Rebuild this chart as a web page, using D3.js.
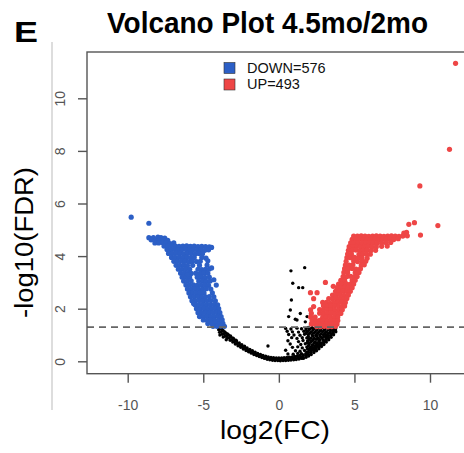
<!DOCTYPE html>
<html>
<head>
<meta charset="utf-8">
<script src="https://cdn.jsdelivr.net/npm/d3@7"></script>
<style>
  html, body { margin: 0; padding: 0; background: #fff; }
  svg { display: block; }
</style>
</head>
<body>
<svg id="chart" width="464" height="453"></svg>
<script>
// ---- data (log2FC, -log10 FDR) ----
const xTicks = [-10, -5, 0, 5, 10];
const yTicks = [0, 2, 4, 6, 8, 10];
const fdrCut = 1.301;

const legendLabels = ['DOWN=576', 'UP=493'];
const legendColors = ['#2C5FC6', '#EE4646'];

const downPoints = [
  [-9.77,5.48],[-8.6,5.25],
  [-8.6,4.7],[-8.3,4.7],[-8.0,4.72],[-7.8,4.7],[-7.55,4.68],
  [-8.45,4.62],[-8.15,4.6],[-7.9,4.63],[-7.65,4.6],[-7.35,4.6],
  [-8.2,4.5],[-7.95,4.5],[-7.7,4.52],[-7.45,4.5],[-7.2,4.48],[-6.95,4.5],
  [-7.6,4.38],[-7.35,4.38],[-7.1,4.4],[-6.85,4.38],[-6.6,4.37],[-6.35,4.38],[-6.1,4.39],[-5.85,4.37],[-5.6,4.38],[-5.35,4.36],[-5.1,4.37],[-4.85,4.36],[-4.6,4.35],[-4.45,4.33],
  [-7.4,4.25],[-7.15,4.25],[-6.9,4.26],[-6.65,4.24],[-6.4,4.25],[-6.15,4.25],[-5.9,4.24],[-5.65,4.25],[-5.4,4.23],[-5.15,4.24],[-4.9,4.22],[-4.65,4.24],
  [-7.3,4.1],[-7.05,4.1],[-6.8,4.12],[-6.55,4.1],[-6.3,4.08],[-6.05,4.1],[-5.8,4.1],[-5.55,4.08],[-5.3,4.1],[-5.05,4.09],
  [-7.1,3.95],[-6.85,3.95],[-6.6,3.96],[-6.35,3.94],[-6.1,3.95],[-5.85,3.93],[-5.6,3.95],[-5.1,3.95],[-4.82,3.92],
  [-6.95,3.8],[-6.7,3.8],[-6.45,3.82],[-6.2,3.8],[-5.95,3.78],[-5.75,3.8],[-5.45,3.79],[-5.2,3.8],[-4.7,3.82],
  [-6.8,3.65],[-6.55,3.65],[-6.3,3.66],[-6.05,3.64],[-5.7,3.65],[-5.25,3.65],[-4.75,3.66],
  [-6.65,3.5],[-6.4,3.5],[-6.15,3.52],[-5.9,3.5],[-5.35,3.5],[-5.1,3.49],[-4.85,3.5],[-4.6,3.51],
  [-6.5,3.35],[-6.25,3.35],[-6.0,3.36],[-5.8,3.34],[-5.5,3.35],[-5.2,3.34],[-4.95,3.36],[-4.7,3.35],
  [-6.4,3.2],[-6.15,3.2],[-5.9,3.21],[-5.4,3.2],[-5.15,3.21],[-4.9,3.19],[-4.6,3.2],
  [-6.3,3.05],[-6.05,3.05],[-5.8,3.06],[-5.3,3.05],[-5.05,3.06],[-4.8,3.04],[-4.55,3.05],
  [-6.15,2.9],[-5.9,2.9],[-5.65,2.91],[-5.4,2.89],[-5.15,2.9],[-4.9,2.91],[-4.65,2.89],[-4.14,2.9],
  [-6.05,2.75],[-5.8,2.75],[-5.55,2.76],[-5.3,2.74],[-5.05,2.75],[-4.8,2.76],[-4.5,2.75],
  [-5.95,2.6],[-5.7,2.6],[-5.45,2.61],[-5.2,2.59],[-4.95,2.6],[-4.4,2.6],
  [-5.85,2.45],[-5.6,2.45],[-5.35,2.46],[-5.1,2.44],[-4.85,2.45],[-4.6,2.46],[-4.3,2.45],
  [-5.75,2.3],[-5.5,2.3],[-5.25,2.31],[-5.0,2.29],[-4.75,2.3],[-4.5,2.31],[-4.2,2.3],
  [-5.64,2.2],[-6.05,3.3],[-4.3,3.1],[-4.45,3.55],
  [-5.55,2.15],[-5.3,2.15],[-5.05,2.16],[-4.8,2.14],[-4.55,2.15],[-4.3,2.16],[-4.05,2.15],
  [-5.45,2.0],[-5.2,2.0],[-4.95,2.01],[-4.7,1.99],[-4.45,2.0],[-4.2,2.01],[-3.98,2.0],
  [-5.35,1.85],[-5.1,1.85],[-4.85,1.86],[-4.6,1.84],[-4.35,1.85],[-4.1,1.86],[-3.9,1.85],
  [-5.25,1.7],[-5.0,1.7],[-4.75,1.71],[-4.5,1.69],[-4.25,1.7],[-4.0,1.71],[-3.82,1.7],
  [-5.0,1.57],[-4.75,1.57],[-4.5,1.58],[-4.25,1.56],[-4.0,1.57],[-3.75,1.58],
  [-4.7,1.44],[-4.45,1.44],[-4.2,1.45],[-3.95,1.43],[-3.7,1.44],
  [-4.35,1.33],[-4.1,1.33],[-3.85,1.34],[-3.6,1.33]
];

const upPoints = [
  [11.69,11.33],[11.29,8.06],[9.33,6.67],[8.6,5.21],[8.97,5.27],[10.52,5.16],[9.37,4.8],[8.27,4.87],[8.45,4.9],
  [4.95,4.76],[5.2,4.76],[5.45,4.77],[5.7,4.76],[5.95,4.75],[6.2,4.76],[6.45,4.77],[6.7,4.76],[6.95,4.75],[7.2,4.76],[7.45,4.77],[7.7,4.76],[7.95,4.75],[8.2,4.76],[8.5,4.77],
  [4.85,4.64],[5.1,4.64],[5.35,4.65],[5.6,4.63],[5.85,4.64],[6.1,4.65],[6.35,4.64],[6.6,4.63],[6.85,4.64],[7.1,4.65],[7.35,4.64],[7.6,4.63],[7.9,4.66],
  [4.75,4.5],[5.0,4.5],[5.25,4.51],[5.5,4.49],[5.75,4.5],[6.0,4.51],[6.25,4.5],[6.5,4.49],[6.8,4.5],[7.1,4.51],[7.4,4.52],
  [4.65,4.36],[4.9,4.36],[5.15,4.37],[5.4,4.35],[5.65,4.36],[5.9,4.37],[6.15,4.35],[6.45,4.36],[6.8,4.37],[7.17,4.38],
  [4.6,4.22],[4.85,4.22],[5.1,4.23],[5.35,4.21],[5.6,4.22],[5.85,4.23],[6.1,4.21],[6.4,4.22],
  [4.55,4.08],[4.8,4.08],[5.3,4.07],[5.55,4.08],[5.8,4.09],[6.05,4.07],
  [4.5,3.94],[4.75,3.94],[5.0,3.95],[5.25,3.93],[5.5,3.94],[5.84,3.92],
  [4.45,3.8],[4.95,3.81],[5.2,3.79],[5.5,3.8],[5.75,3.8],
  [4.4,3.66],[4.65,3.66],[4.9,3.67],[5.45,3.66],[5.65,3.67],
  [4.35,3.52],[4.6,3.52],[4.85,3.53],[5.1,3.51],[5.4,3.52],
  [4.3,3.38],[4.55,3.38],[5.05,3.37],[5.3,3.38],
  [4.25,3.22],[4.5,3.22],[4.75,3.23],[5.0,3.21],[5.18,3.22],
  [4.1,3.08],[4.35,3.08],[4.85,3.07],[5.05,3.08],[3.08,3.0],
  [3.95,2.94],[4.2,2.94],[4.45,2.95],[4.7,2.93],[4.95,2.94],
  [3.85,2.8],[4.1,2.8],[4.35,2.81],[4.6,2.79],[4.85,2.8],
  [3.75,2.66],[4.0,2.66],[4.25,2.67],[4.5,2.65],[4.73,2.66],
  [2.09,2.61],[2.53,2.61],[2.3,2.38],[3.6,2.85],
  [3.55,2.52],[3.8,2.52],[4.05,2.53],[4.3,2.51],[4.6,2.52],
  [3.3,2.38],[3.55,2.38],[3.8,2.39],[4.05,2.37],[4.3,2.38],[4.5,2.39],
  [2.9,2.24],[3.15,2.24],[3.41,2.2],[3.65,2.23],[3.9,2.24],[4.15,2.25],[4.4,2.24],
  [2.3,2.08],[2.95,2.11],[3.2,2.09],[3.45,2.1],[3.7,2.11],[3.95,2.09],[4.2,2.1],[4.35,2.1],
  [2.1,1.96],[2.7,1.97],[2.95,1.95],[3.2,1.96],[3.45,1.97],[3.7,1.95],[3.95,1.96],[4.2,1.96],
  [2.15,1.82],[2.7,1.83],[2.95,1.81],[3.2,1.82],[3.45,1.83],[3.7,1.81],[3.95,1.82],[4.1,1.82],
  [2.1,1.68],[2.4,1.68],[2.9,1.67],[3.15,1.68],[3.4,1.69],[3.65,1.67],[3.9,1.68],
  [2.2,1.55],[2.45,1.55],[2.7,1.56],[2.95,1.54],[3.2,1.55],[3.45,1.56],[3.7,1.54],[3.9,1.55],
  [2.15,1.42],[2.4,1.42],[2.65,1.43],[2.9,1.41],[3.15,1.42],[3.4,1.43],[3.65,1.41],[3.85,1.42],
  [2.5,1.32],[2.75,1.32],[3.0,1.33],[3.25,1.31],[3.5,1.32],[3.75,1.33]
];

const nsPoints = [
  // left arm and floor of the U
  [-4.05,1.32],[-3.98,1.2],[-3.92,1.1],[-3.85,1.24],[-3.8,1.13],[-3.74,1.03],
  [-3.68,1.16],[-3.62,1.05],[-3.56,0.95],[-3.5,1.07],[-3.45,0.97],[-3.4,0.88],
  [-3.33,1.0],[-3.28,0.9],[-3.22,0.8],[-3.16,0.92],[-3.1,0.82],[-3.05,0.73],
  [-2.98,0.84],[-2.93,0.75],[-2.88,0.66],[-2.8,0.77],[-2.75,0.68],[-2.7,0.59],
  [-2.62,0.7],[-2.57,0.61],[-2.52,0.53],[-2.45,0.63],[-2.4,0.55],[-2.35,0.47],
  [-2.27,0.57],[-2.22,0.49],[-2.17,0.41],[-2.1,0.51],[-2.05,0.43],[-2.0,0.36],
  [-1.92,0.45],[-1.87,0.38],[-1.82,0.31],[-1.75,0.4],[-1.7,0.33],[-1.65,0.26],
  [-1.57,0.35],[-1.52,0.28],[-1.47,0.22],[-1.4,0.3],[-1.35,0.24],[-1.3,0.18],
  [-1.22,0.26],[-1.17,0.2],[-1.12,0.14],[-1.05,0.22],[-1.0,0.16],[-0.95,0.11],
  [-0.87,0.19],[-0.82,0.13],[-0.77,0.08],[-0.7,0.17],[-0.65,0.11],[-0.6,0.06],
  [-0.52,0.15],[-0.47,0.09],[-0.42,0.04],[-0.35,0.14],[-0.3,0.08],[-0.25,0.03],
  [-0.17,0.13],[-0.12,0.08],[-0.07,0.03],[0.0,0.13],[0.05,0.07],[0.1,0.02],
  [0.18,0.13],[0.23,0.08],[0.28,0.03],[0.35,0.14],[0.4,0.08],[0.45,0.03],
  [0.53,0.15],[0.58,0.09],[0.63,0.04],[0.7,0.16],[0.75,0.1],[0.8,0.05],
  [0.88,0.17],[0.93,0.11],[0.98,0.06],[1.05,0.18],[1.1,0.12],[1.15,0.07],
  [1.23,0.2],[1.28,0.14],[1.33,0.09],[1.4,0.22],[1.45,0.16],[1.5,0.11],
  [-3.95,1.28],[-3.75,1.2],[-3.58,1.12],[-3.4,1.04],[-3.2,0.96],[-3.02,0.88],[-2.84,0.8],
  [-3.9,1.0],[-3.68,0.92],[-3.48,0.82],[-0.72,0.58],
  // right arm
  [1.6,0.24],[1.6,0.17],[1.62,0.11],[1.78,0.29],[1.78,0.22],[1.8,0.15],
  [1.95,0.34],[1.95,0.27],[1.97,0.2],[2.12,0.4],[2.12,0.33],[2.14,0.26],
  [2.3,0.47],[2.3,0.4],[2.32,0.33],[2.47,0.54],[2.47,0.47],[2.49,0.4],
  [2.63,0.62],[2.63,0.55],[2.65,0.48],[2.8,0.7],[2.8,0.63],[2.82,0.56],
  [2.96,0.78],[2.96,0.71],[2.98,0.64],[3.12,0.87],[3.12,0.8],[3.14,0.73],
  [3.28,0.96],[3.28,0.89],[3.3,0.82],[3.44,1.05],[3.44,0.98],[3.46,0.91],
  [3.6,1.15],[3.6,1.08],[3.62,1.01],[3.75,1.26],[3.75,1.19],[3.77,1.12],
  // inside the right half of the U
  [0.6,0.28],[0.95,0.27],[1.25,0.3],[1.5,0.29],
  [1.85,0.35],
  [0.45,0.42],[1.1,0.4],[1.4,0.38],[1.7,0.41],[2.0,0.43],
  [1.9,0.47],[2.05,0.48],[2.2,0.47],
  [0.9,0.53],[1.25,0.55],[1.55,0.51],[1.85,0.54],[2.1,0.53],[2.3,0.52],
  [1.95,0.58],[2.2,0.6],[2.4,0.59],[2.55,0.58],
  [0.75,0.66],[1.45,0.64],[1.75,0.67],[2.0,0.64],[2.25,0.63],[2.5,0.66],
  [1.9,0.71],[2.1,0.72],[2.35,0.71],[2.55,0.7],[2.72,0.7],
  [0.6,0.78],[1.3,0.75],[1.6,0.79],[1.9,0.77],[2.15,0.76],[2.4,0.75],[2.65,0.77],
  [2.0,0.83],[2.25,0.82],[2.5,0.84],[2.72,0.82],[2.92,0.82],
  [0.85,0.9],[1.2,0.87],[1.55,0.9],[1.85,0.89],[2.1,0.88],[2.35,0.87],[2.6,0.88],[2.85,0.89],
  [1.95,0.94],[2.25,0.95],[2.5,0.95],[2.75,0.94],[2.98,0.94],[3.12,0.95],
  [0.65,1.02],[1.0,1.0],[1.4,0.99],[1.7,1.03],[1.95,1.01],[2.2,1.0],[2.45,0.99],[2.7,1.0],[2.95,1.01],[3.15,1.0],
  [1.8,1.06],[2.05,1.07],[2.3,1.07],[2.55,1.06],[2.8,1.05],[3.05,1.06],[3.28,1.06],
  [0.55,1.14],[0.9,1.12],[1.3,1.11],[1.65,1.14],[1.9,1.13],[2.15,1.12],[2.4,1.11],[2.65,1.12],[2.9,1.13],[3.15,1.12],[3.4,1.11],
  [1.8,1.18],[2.0,1.19],[2.25,1.19],[2.5,1.18],[2.75,1.17],[3.0,1.18],[3.25,1.19],[3.45,1.18],[3.62,1.18],
  [0.45,1.25],[0.8,1.23],[1.2,1.26],[1.5,1.24],[1.8,1.25],[2.05,1.24],[2.3,1.23],[2.55,1.24],[2.8,1.25],[3.05,1.24],[3.3,1.23],[3.55,1.24],
  [1.95,1.29],[2.2,1.28],[2.45,1.29],[2.7,1.29],[2.95,1.28],[3.2,1.29],[3.45,1.29],[3.7,1.28],
  // scattered above the cutoff
  [0.8,3.44],[1.71,3.56],[0.92,2.97],[1.31,2.8],[1.58,2.8],[0.83,2.33],
  [0.76,1.95],[0.65,1.7],[1.2,1.57],[1.75,1.5],[1.87,1.7],[1.42,1.82],[1.09,1.6]
];

// ---- layout ----
const width = 464, height = 453;
const margin = { top: 52, right: -20, bottom: 80, left: 87 };
const innerWidth = width - margin.left - margin.right;
const innerHeight = height - margin.top - margin.bottom;
const font = '"Liberation Sans", Arial, Helvetica, sans-serif';
const axisColor = '#555';

const svg = d3.select('#chart');

// x: -10 and 10 ticks sit at 127.7 / 430 px, y: 0 and 10 at 361.3 / 98.3 px
const xScale = d3.scaleLinear().domain([-10, 10]).range([127.7 - margin.left, 430 - margin.left]);
const yScale = d3.scaleLinear().domain([0, 10]).range([361.3 - margin.top, 98.3 - margin.top]);

// faint panel border left of the plot
svg.append('line')
  .attr('x1', 52).attr('x2', 52)
  .attr('y1', 42).attr('y2', 410)
  .attr('stroke', '#d2d2d2')
  .attr('stroke-width', 1.5);

// panel letter and title
svg.append('text')
  .attr('x', 14).attr('y', 42)
  .attr('textLength', 24)
  .attr('lengthAdjust', 'spacingAndGlyphs')
  .style('font-family', font)
  .style('font-weight', 700)
  .style('font-size', '29px')
  .attr('fill', '#000')
  .text('E');

svg.append('text')
  .attr('x', 267.5).attr('y', 33)
  .attr('text-anchor', 'middle')
  .attr('textLength', 321)
  .attr('lengthAdjust', 'spacingAndGlyphs')
  .style('font-family', font)
  .style('font-weight', 700)
  .style('font-size', '29px')
  .attr('fill', '#000')
  .text('Volcano Plot 4.5mo/2mo');

const g = svg.append('g')
  .attr('transform', `translate(${margin.left},${margin.top})`);

// points: black first, then the coloured groups
g.append('g')
  .attr('fill', '#000')
  .selectAll('circle')
  .data(nsPoints)
  .join('circle')
  .attr('cx', d => xScale(d[0]))
  .attr('cy', d => yScale(d[1]))
  .attr('r', 1.7);

g.append('g')
  .attr('fill', legendColors[0])
  .selectAll('circle')
  .data(downPoints)
  .join('circle')
  .attr('cx', d => xScale(d[0]))
  .attr('cy', d => yScale(d[1]))
  .attr('r', 2.6);

g.append('g')
  .attr('fill', legendColors[1])
  .selectAll('circle')
  .data(upPoints)
  .join('circle')
  .attr('cx', d => xScale(d[0]))
  .attr('cy', d => yScale(d[1]))
  .attr('r', 2.6);

// FDR cutoff
g.append('line')
  .attr('x1', 0).attr('x2', innerWidth)
  .attr('y1', yScale(fdrCut)).attr('y2', yScale(fdrCut))
  .attr('stroke', '#666')
  .attr('stroke-width', 1.7)
  .attr('stroke-dasharray', '7,5');

// plot box
g.append('rect')
  .attr('x', 0).attr('y', 0)
  .attr('width', innerWidth + 10)
  .attr('height', innerHeight + 0.7)
  .attr('fill', 'none')
  .attr('stroke', axisColor)
  .attr('stroke-width', 1.4);

// x axis
g.append('g')
  .attr('transform', `translate(0,${innerHeight + 0.7})`)
  .call(d3.axisBottom(xScale).tickValues(xTicks).tickSize(9).tickFormat(d => String(d)))
  .call(ax => ax.select('.domain').remove())
  .call(ax => ax.selectAll('line').attr('stroke', axisColor).attr('stroke-width', 1.4))
  .call(ax => ax.selectAll('text')
    .attr('y', 36.5)
    .attr('dy', 0)
    .style('font-family', font)
    .style('font-size', '14px')
    .attr('fill', axisColor));

// y axis, labels parallel to the axis
g.append('g')
  .call(d3.axisLeft(yScale).tickValues(yTicks).tickSize(9).tickFormat(d => String(d)))
  .call(ax => ax.select('.domain').remove())
  .call(ax => ax.selectAll('line').attr('stroke', axisColor).attr('stroke-width', 1.4))
  .call(ax => ax.selectAll('text')
    .attr('transform', 'rotate(-90)')
    .attr('x', 0)
    .attr('y', -22)
    .attr('dy', 0)
    .attr('text-anchor', 'middle')
    .style('font-family', font)
    .style('font-size', '14px')
    .attr('fill', axisColor));

// axis titles
svg.append('text')
  .attr('x', 275).attr('y', 439)
  .attr('text-anchor', 'middle')
  .attr('textLength', 110)
  .attr('lengthAdjust', 'spacingAndGlyphs')
  .style('font-family', font)
  .style('font-size', '25px')
  .attr('fill', '#000')
  .text('log2(FC)');

svg.append('text')
  .attr('transform', 'translate(33,242.5) rotate(-90)')
  .attr('text-anchor', 'middle')
  .attr('textLength', 151)
  .attr('lengthAdjust', 'spacingAndGlyphs')
  .style('font-family', font)
  .style('font-size', '25px')
  .attr('fill', '#000')
  .text('-log10(FDR)');

// legend
const legend = svg.append('g')
  .attr('transform', 'translate(224,62.5)');

legend.selectAll('rect')
  .data(legendLabels)
  .join('rect')
  .attr('x', 0)
  .attr('y', (d, i) => i * 16.5)
  .attr('width', 11)
  .attr('height', 11)
  .attr('fill', (d, i) => legendColors[i])
  .attr('stroke', '#333')
  .attr('stroke-width', 0.6);

legend.selectAll('text')
  .data(legendLabels)
  .join('text')
  .attr('x', 23)
  .attr('y', (d, i) => 10.8 + i * 16)
  .style('font-family', font)
  .style('font-size', '14.5px')
  .attr('fill', '#111')
  .text(d => d);
</script>
</body>
</html>
